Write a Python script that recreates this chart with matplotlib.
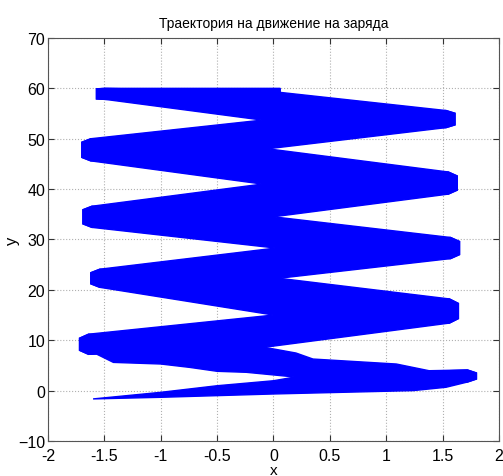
import numpy as np
import matplotlib
matplotlib.use("Agg")
import matplotlib.pyplot as plt
from matplotlib.patches import Polygon

# turning points of the trajectory (band centre), band half-height just inside
# the turn and half-height at the very tip
turn_x = [-1.60, 1.80, -1.72, 1.64, -1.62, 1.65, -1.69, 1.63, -1.70, 1.61, -1.57, 0.06]
turn_y = [-1.65, 2.9, 9.2, 15.8, 22.3, 28.3, 34.5, 41.2, 47.8, 53.9, 58.9, 59.6]
turn_h = [0.0, 1.2, 2.0, 2.4, 1.8, 2.1, 2.1, 2.2, 2.2, 1.7, 1.1, 0.4]
cap_h = [0.0, 0.6, 1.2, 1.5, 1.1, 1.3, 1.4, 1.4, 1.5, 1.15, 1.0, 0.4]

# points where the bands of two neighbouring strokes meet
cross_x = [0.19, -0.08, 0.00, 0.05, 0.02, 0.00, -0.10, -0.05, -0.10, 0.06]
cross_y = [2.7, 8.6, 15.0, 22.3, 28.3, 34.5, 41.0, 48.0, 53.7, 59.2]

# extra edge points of the first two strokes (bottom of the picture)
s0_lo_x = [-1.0, 0.0, 1.24, 1.53]
s0_lo_y = [-1.33, -0.67, 0.0, 0.66]
s0_hi_x = [-1.0, -0.5, 0.0]
s0_hi_y = [-0.34, 0.97, 1.96]
s1_lo_x = [-0.24, -0.5, -0.74, -1.0, -1.42, -1.57]
s1_lo_y = [3.63, 3.83, 4.6, 5.28, 5.6, 7.26]
s1_hi_x = [1.38, 1.09, 0.35, 0.2]
s1_hi_y = [3.95, 5.28, 6.27, 7.46]

title = 'Траектория на движение на заряда'

plt.rcParams['font.family'] = ['Liberation Sans', 'DejaVu Sans']

fig = plt.figure(figsize=(5.03, 4.77), dpi=100)
ax = fig.add_axes([0.0954, 0.0734, 0.8966, 0.8449])

n = len(turn_x) - 1
lo_extra = {0: list(zip(s0_lo_x, s0_lo_y)), 1: list(zip(s1_lo_x, s1_lo_y))}
hi_extra = {0: list(zip(s0_hi_x, s0_hi_y)), 1: list(zip(s1_hi_x, s1_hi_y))}
dx = 0.08

for k in range(n):
    xa, ya, ha, ca = turn_x[k], turn_y[k], turn_h[k], cap_h[k]
    xb, yb, hb, cb = turn_x[k + 1], turn_y[k + 1], turn_h[k + 1], cap_h[k + 1]
    d = 1 if xb > xa else -1
    lo = list(lo_extra.get(k, []))
    hi = list(hi_extra.get(k, []))
    if 1 <= k <= len(cross_x) and k < n - 1:
        lo.append((cross_x[k - 1], cross_y[k - 1]))
    if k < len(cross_x):
        hi.append((cross_x[k], cross_y[k]))
    lo.sort(key=lambda p: d * p[0])
    hi.sort(key=lambda p: d * p[0])
    sa = 0 if k == 0 else dx
    pts = [(xa, ya - ca), (xa + d * sa, ya - ha)] + lo + \
          [(xb - d * dx, yb - hb), (xb, yb - cb), (xb, yb + cb), (xb - d * dx, yb + hb)] + \
          hi[::-1] + [(xa + d * sa, ya + ha), (xa, ya + ca)]
    ax.add_patch(Polygon(pts, closed=True, facecolor='#0000ff',
                         edgecolor='#0000ff', linewidth=1.0, zorder=3))

ax.set_xlim(-2, 2)
ax.set_ylim(-10, 70)
ax.set_xticks(np.arange(-2, 2.01, 0.5))
ax.set_yticks(np.arange(-10, 71, 10))
ax.set_xticklabels(['-2', '-1.5', '-1', '-0.5', '0', '0.5', '1', '1.5', '2'])
ax.grid(True, linestyle=':', color='#b0b0b0', linewidth=0.8)
ax.tick_params(direction='in', top=True, right=True, labelsize=11.5, length=4,
               colors='#333333', labelcolor='black')
ax.tick_params(axis='x', pad=5)
ax.tick_params(axis='y', pad=2)
for s in ax.spines.values():
    s.set_color('#555555')
    s.set_linewidth(0.8)

ax.set_title(title, fontsize=10, pad=8)
ax.set_xlabel('x', fontsize=11, labelpad=0)
ax.set_ylabel('y', fontsize=12)
ax.yaxis.set_label_coords(-0.062, 0.5)

fig.savefig('out.png', dpi=100)
